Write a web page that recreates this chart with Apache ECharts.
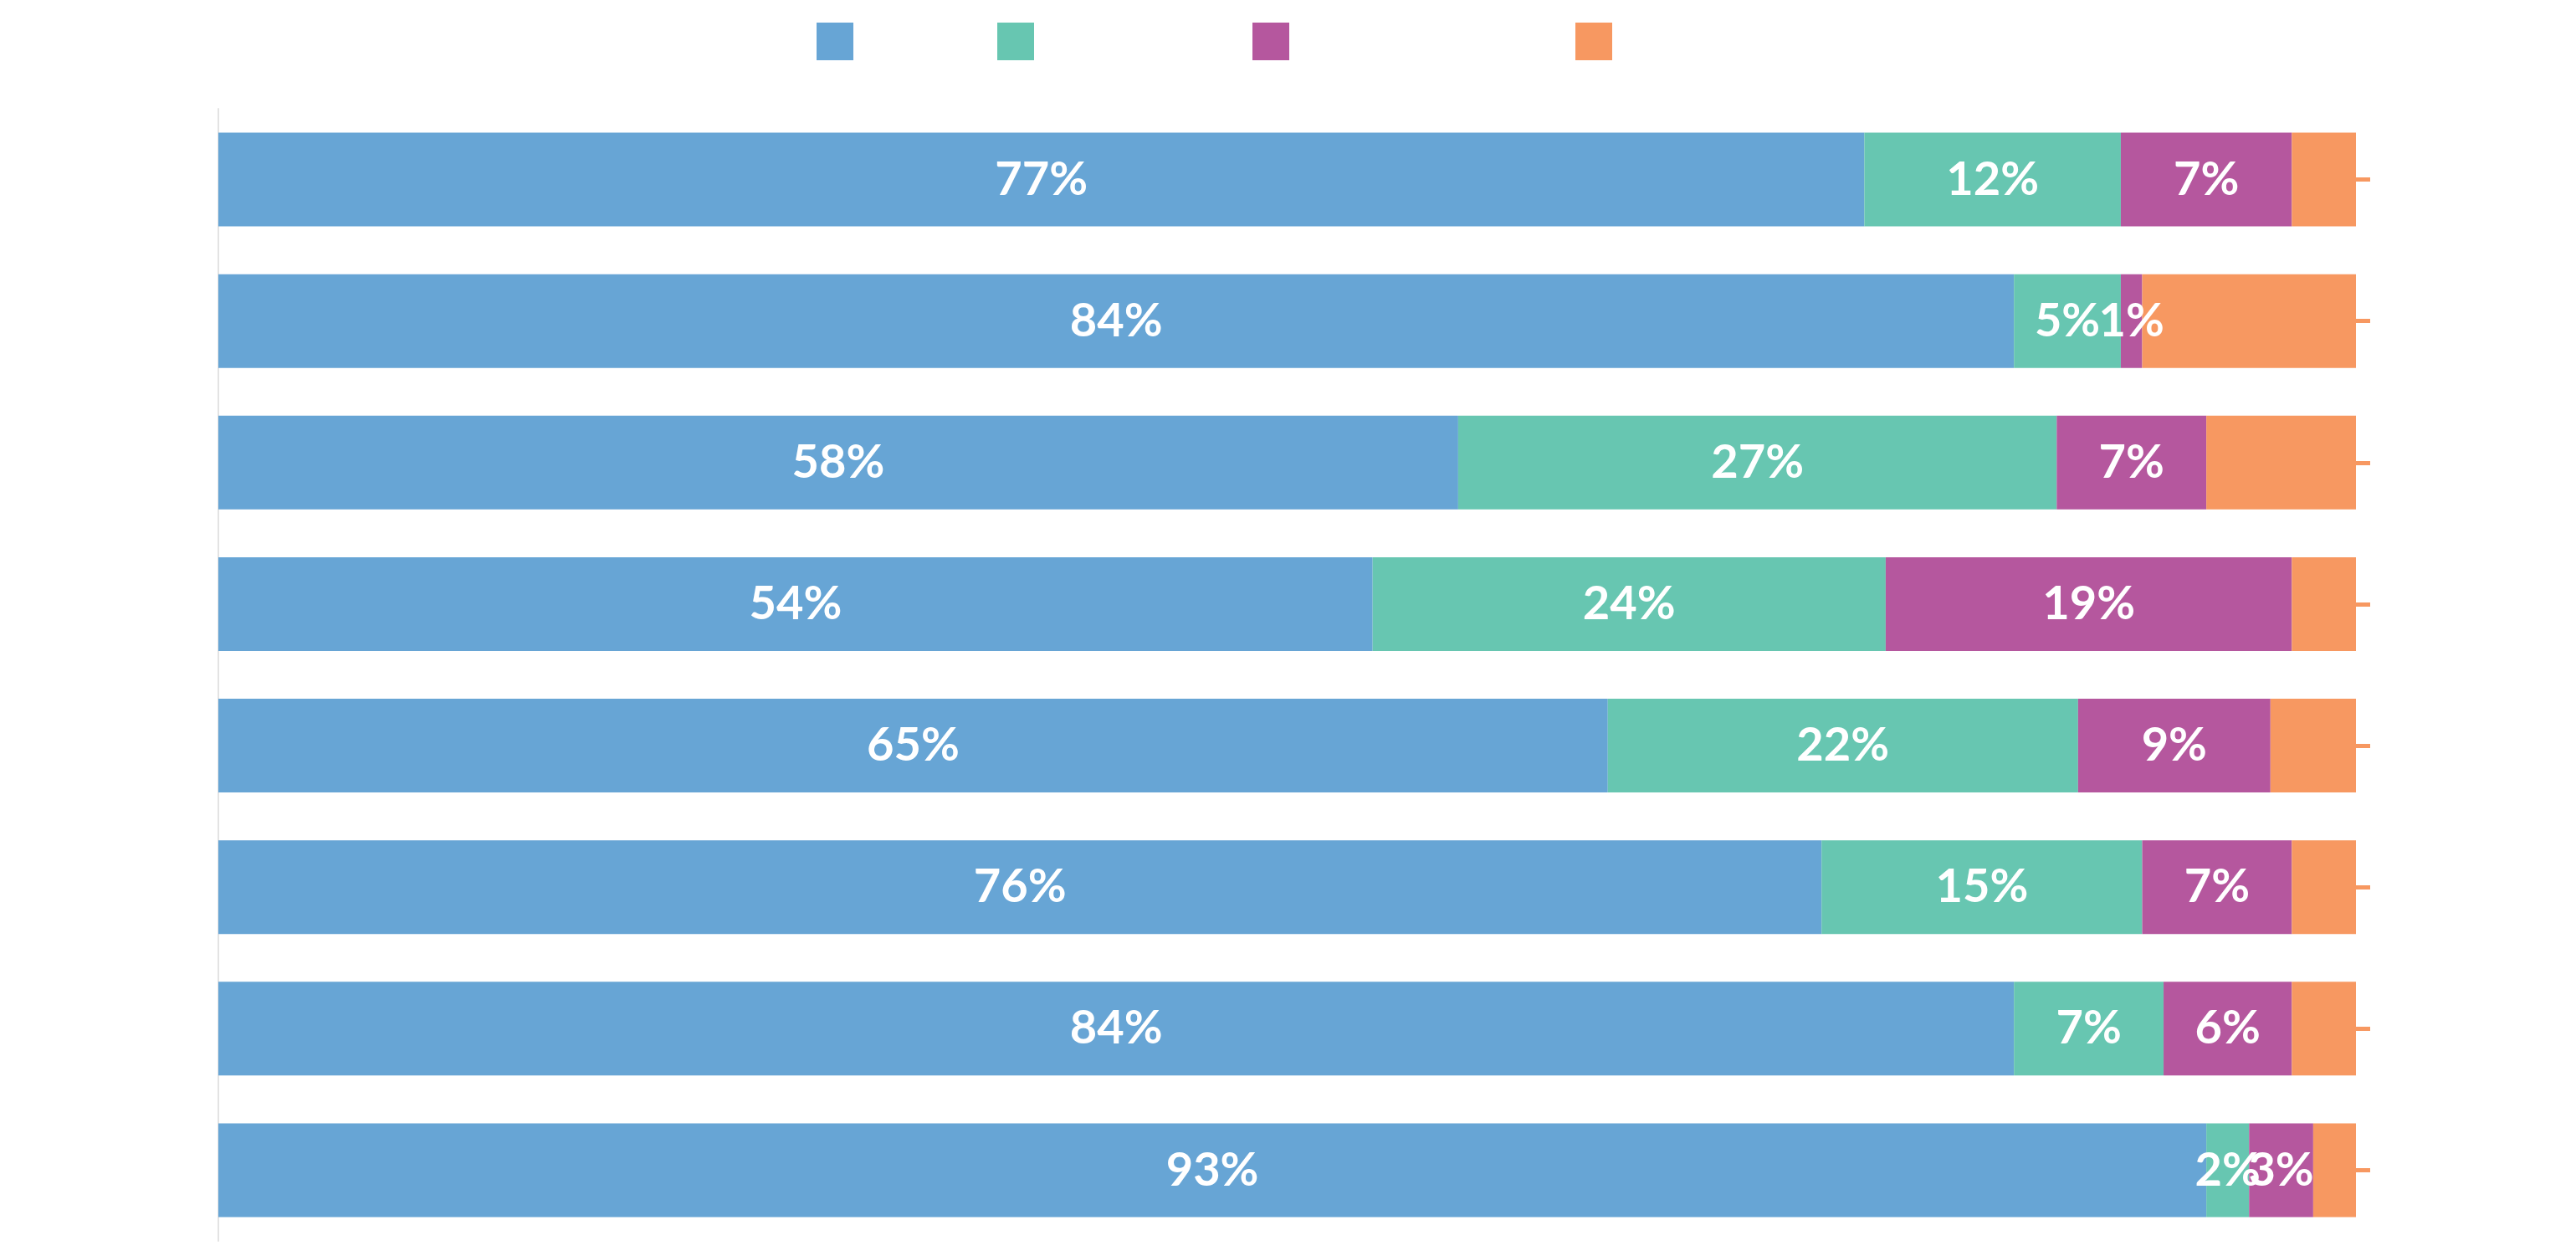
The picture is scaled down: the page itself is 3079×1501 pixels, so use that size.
<!DOCTYPE html>
<html>
<head>
<meta charset="utf-8">
<style>
  html, body { margin: 0; padding: 0; background: #fff; }
  .bar .chart { width: 3079px; height: 1501px; }
</style>
<script src="https://cdn.jsdelivr.net/npm/echarts@6/dist/echarts.min.js"></script>
</head>
<body>
<div class="bar"><div class="chart"></div></div>
<script>
// data, top row first (bar lengths as drawn)
var categories = ["Row 1", "Row 2", "Row 3", "Row 4", "Row 5", "Row 6", "Row 7", "Row 8"];
var seriesNames = ["Series 1", "Series 2", "Series 3", "Series 4"];
var blueData = [77, 84, 58, 54, 65, 75, 84, 93];
var greenData = [12, 5, 28, 24, 22, 15, 7, 2];
var purpleData = [8, 1, 7, 19, 9, 7, 6, 3];
var orangeData = [3, 10, 7, 3, 4, 3, 3, 2];
// printed percentages (a few differ from the drawn length)
var blueLabels = [77, 84, 58, 54, 65, 76, 84, 93];
var greenLabels = [12, 5, 27, 24, 22, 15, 7, 2];
var purpleLabels = [7, 1, 7, 19, 9, 7, 6, 3];
var xTicks = [0, 100];

//堆叠条形图
(function () {
  var myChart = echarts.init(document.querySelector(".bar .chart"));
  var myColor = ["#67a5d5", "#67c6b1", "#b5579e", "#f79861"];
  var allData = [blueData, greenData, purpleData, orangeData];
  var allLabels = [blueLabels, greenLabels, purpleLabels, null];
  // 图例位置 (每项一个图例)
  var legendLeft = [976, 1192, 1497, 1883];

  var legends = seriesNames.map(function (name, i) {
    return {
      data: [name],
      left: legendLeft[i],
      top: 27,
      padding: 0,
      icon: "rect",
      itemWidth: 44,
      itemHeight: 45,
      formatter: function () { return ""; },
      selectedMode: false
    };
  });

  var series = seriesNames.map(function (name, i) {
    return {
      name: name,
      type: "bar",
      stack: "total",
      barWidth: 112,
      data: allData[i],
      itemStyle: { color: myColor[i] },
      label: {
        // 橙色不显示文字
        show: allLabels[i] !== null,
        position: "inside",
        color: "#fff",
        fontFamily: "Lato",
        fontWeight: "bold",
        fontSize: 56,
        formatter: function (p) {
          return allLabels[i][p.dataIndex] + "%";
        }
      }
    };
  });

  var option = {
    color: myColor,
    animation: false,
    legend: legends,
    grid: {
      left: 261,
      right: 263,
      top: 130,
      bottom: 18
    },
    xAxis: {
      type: "value",
      min: xTicks[0],
      max: xTicks[1],
      show: false
    },
    yAxis: [
      {
        // 右侧刻度
        type: "category",
        position: "right",
        inverse: true,
        data: categories,
        axisLine: { show: false, onZero: false },
        axisTick: {
          show: true,
          alignWithLabel: true,
          interval: 0,
          length: 17,
          lineStyle: { color: "#f79861", width: 5 }
        },
        axisLabel: { show: false },
        splitLine: { show: false }
      },
      {
        // 左侧竖线
        type: "category",
        position: "left",
        inverse: true,
        data: categories,
        axisLine: {
          show: true,
          onZero: false,
          lineStyle: { color: "#e3e3e3", width: 2 }
        },
        axisTick: { show: false },
        axisLabel: { show: false },
        splitLine: { show: false }
      }
    ],
    series: series
  };
  myChart.setOption(option);
  //图表自适应
  window.addEventListener("resize", function () {
    myChart.resize();
  });
})();
</script>
</body>
</html>
